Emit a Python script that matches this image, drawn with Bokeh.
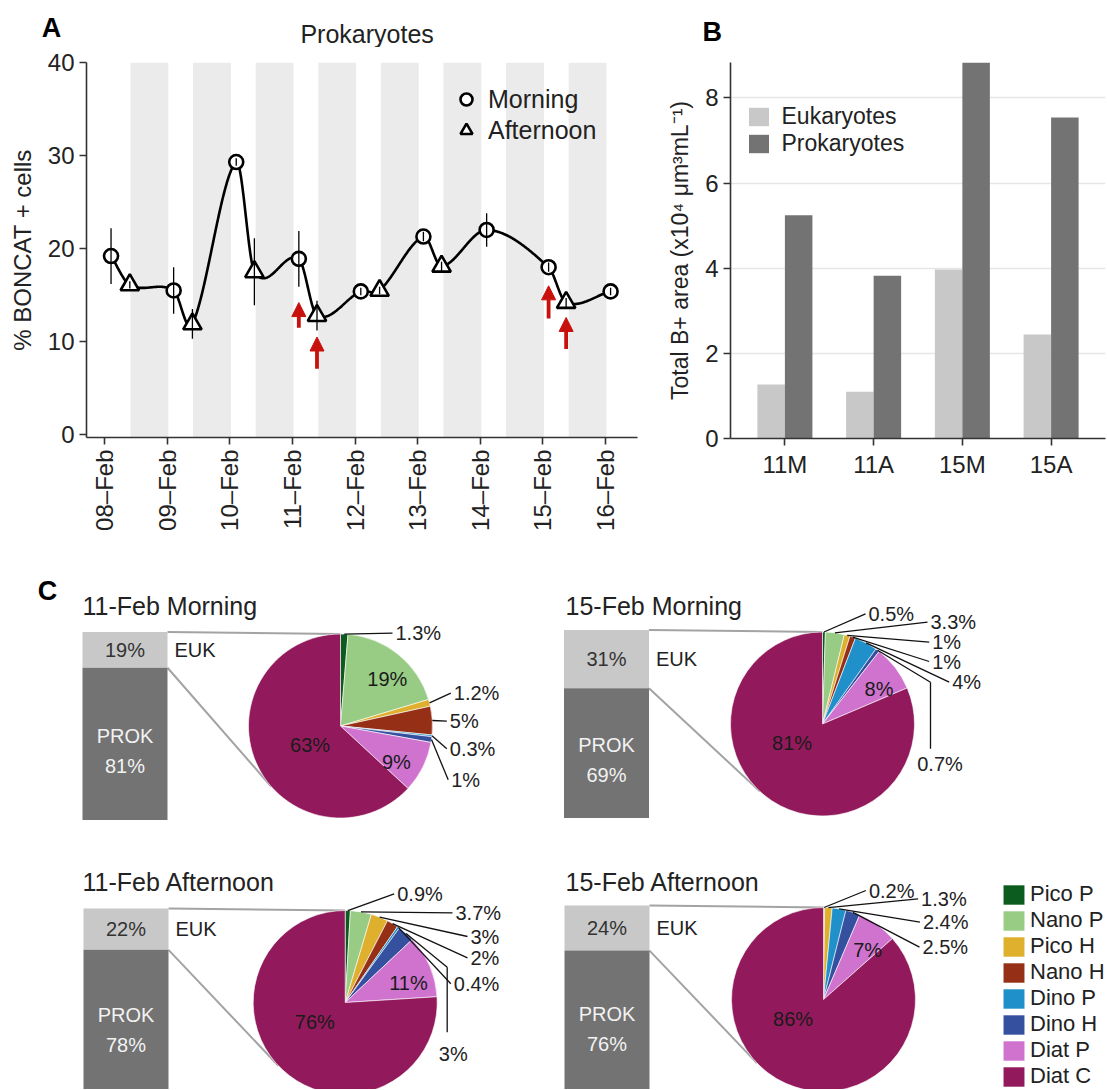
import math
import numpy as np
from bokeh.plotting import figure
from bokeh.layouts import column, row
from bokeh.models import (Range1d, Legend, LegendItem, Arrow, NormalHead,
                          FixedTicker, ColumnDataSource)
from bokeh.core.properties import value
from bokeh.embed import file_html
from bokeh.resources import INLINE

FONT = "Liberation Sans"
INK = "#222222"
AXIS = "#333333"
RED = "#c8100c"

# ---------------- Panel A data ----------------
date_labels = ["08–Feb", "09–Feb", "10–Feb", "11–Feb", "12–Feb", "13–Feb", "14–Feb", "15–Feb", "16–Feb"]
date_pos = [0, 1, 2, 3, 4, 5, 6, 7, 8]
morning_t = [0.10, 1.10, 2.10, 3.10, 4.09, 5.09, 6.10, 7.09, 8.08]
morning_pct = [19.2, 15.5, 29.3, 18.9, 15.4, 21.3, 22.0, 18.0, 15.4]
morning_sd = [3.0, 2.5, 0.4, 3.0, 0.4, 0.5, 1.8, 0.5, 0.4]
afternoon_t = [0.40, 1.40, 2.39, 3.39, 4.39, 5.38, 7.37]
afternoon_pct = [16.1, 11.9, 17.5, 12.8, 15.5, 18.1, 14.2]
afternoon_sd = [0.4, 1.6, 3.6, 1.6, 0.4, 0.5, 0.5]
night_start = [0.41, 1.41, 2.41, 3.41, 4.41, 5.41, 6.41, 7.41]
night_end = [1.015, 2.015, 3.015, 4.015, 5.015, 6.015, 7.015, 8.015]
arrow_t = [3.10, 3.39, 7.09, 7.37]
arrow_tail = [11.5, 7.1, 12.5, 9.2]
arrow_tip = [14.2, 10.5, 16.0, 12.6]
a_yticks = [0, 10, 20, 30, 40]

# ---------------- Panel B data ----------------
b_cats = ["11M", "11A", "15M", "15A"]
euk_area = [1.27, 1.10, 3.97, 2.44]
prok_area = [5.24, 3.82, 8.83, 7.54]
b_yticks = [0, 2, 4, 6, 8]

# ---------------- Panel C data ----------------
groups = ["Pico P", "Nano P", "Pico H", "Nano H", "Dino P", "Dino H", "Diat P", "Diat C"]
group_colors = ["#0d5c1f", "#98cc84", "#deb02e", "#952f16", "#1f90c9", "#35509f", "#cf73cf", "#921a5c"]
samples = ["11-Feb Morning", "15-Feb Morning", "11-Feb Afternoon", "15-Feb Afternoon"]
euk_pct = [19, 31, 22, 24]
prok_pct = [81, 69, 78, 76]
comp_11M = [1.3, 19, 1.2, 5, 0.3, 1, 9, 63]
comp_15M = [0.5, 3.3, 1, 1, 4, 0.7, 8, 81]
comp_11A = [0.9, 3.7, 3, 2, 0.4, 3, 11, 76]
comp_15A = [0.2, 0, 1.3, 0, 2.4, 2.5, 7, 86]


def catmull_rom(x, y, xs):
    x = np.asarray(x, float)
    y = np.asarray(y, float)
    n = len(x)
    m = np.zeros(n)
    m[0] = (y[1] - y[0]) / (x[1] - x[0])
    m[-1] = (y[-1] - y[-2]) / (x[-1] - x[-2])
    m[1:-1] = (y[2:] - y[:-2]) / (x[2:] - x[:-2])
    idx = np.clip(np.searchsorted(x, xs) - 1, 0, n - 2)
    h = x[idx + 1] - x[idx]
    s = (xs - x[idx]) / h
    h00 = 2 * s ** 3 - 3 * s ** 2 + 1
    h10 = s ** 3 - 2 * s ** 2 + s
    h01 = -2 * s ** 3 + 3 * s ** 2
    h11 = s ** 3 - s ** 2
    return h00 * y[idx] + h10 * h * m[idx] + h01 * y[idx + 1] + h11 * h * m[idx + 1]


def style_axes(p, size):
    for ax in p.axis:
        ax.axis_line_color = AXIS
        ax.axis_line_width = 1.6
        ax.major_tick_line_color = AXIS
        ax.major_tick_line_width = 1.6
        ax.major_tick_out = 7
        ax.major_tick_in = 0
        ax.minor_tick_line_color = None
        ax.major_label_text_font = FONT
        ax.major_label_text_font_size = size
        ax.major_label_text_color = INK
        ax.major_label_standoff = 5
        ax.axis_label_text_font = FONT
        ax.axis_label_text_font_style = "normal"
        ax.axis_label_text_color = INK


def blank(width, height):
    p = figure(frame_width=width, frame_height=height, x_range=Range1d(0, width),
               y_range=Range1d(0, height), min_border=0, x_axis_location=None,
               y_axis_location=None, output_backend="svg", toolbar_location=None, title=None)
    p.outline_line_color = None
    p.grid.visible = False
    return p


def put_text(p, d, size, color, align, style="normal"):
    p.text(x="x", y="y", text="t", source=ColumnDataSource(d), text_font=value(FONT),
           text_font_size=size, text_color=color, text_align=align,
           text_baseline="middle", text_font_style=style)


# ================= header strip (panel letters, title) =================
TOP_H = 47
pTop = blank(1106, TOP_H)
put_text(pTop, dict(x=[51, 711.7], y=[TOP_H - 27, TOP_H - 31], t=["A", "B"]),
         "27px", "black", "center", "bold")
put_text(pTop, dict(x=[366.6], y=[TOP_H - 33.5], t=["Prokaryotes"]), "25px", INK, "center")

# ================= Panel A =================
yA0, yA1 = -0.3, 40
pA = figure(frame_width=551, frame_height=375, min_border_left=86, min_border_right=3,
            min_border_top=62 - TOP_H, min_border_bottom=125,
            x_range=Range1d(-0.292, 8.51), y_range=Range1d(yA0, yA1),
            output_backend="svg", toolbar_location=None, title=None)
pA.outline_line_color = None
pA.grid.visible = False
pA.quad(left=night_start, right=night_end, bottom=yA0, top=yA1,
        fill_color="#ebebeb", line_color=None)

t_all = np.array(morning_t + afternoon_t)
v_all = np.array(morning_pct + afternoon_pct)
order = np.argsort(t_all)
ts = np.linspace(t_all[order][0], t_all[order][-1], 900)
pA.line(ts, catmull_rom(t_all[order], v_all[order], ts), line_color="black",
        line_width=2.6, line_join="round")

rm = pA.scatter(morning_t, morning_pct, marker="circle", size=14, fill_color="white",
                line_color="black", line_width=2.6)
ra = pA.scatter(afternoon_t, afternoon_pct, marker="triangle", size=18.5, fill_color="white",
                line_color="black", line_width=2.6)
pA.segment(x0=morning_t, x1=morning_t,
           y0=[v - s for v, s in zip(morning_pct, morning_sd)],
           y1=[v + s for v, s in zip(morning_pct, morning_sd)],
           line_color="black", line_width=1.3)
pA.segment(x0=afternoon_t, x1=afternoon_t,
           y0=[v - s for v, s in zip(afternoon_pct, afternoon_sd)],
           y1=[v + s for v, s in zip(afternoon_pct, afternoon_sd)],
           line_color="black", line_width=1.3)
for t, y0, y1 in zip(arrow_t, arrow_tail, arrow_tip):
    pA.add_layout(Arrow(end=NormalHead(size=14, fill_color=RED, line_color=RED, line_width=1),
                        x_start=t, y_start=y0, x_end=t, y_end=y1,
                        line_color=RED, line_width=3.8))

style_axes(pA, "24px")
pA.xaxis.ticker = FixedTicker(ticks=date_pos)
pA.xaxis.major_label_overrides = {p: l for p, l in zip(date_pos, date_labels)}
pA.xaxis.major_label_orientation = math.pi / 2
pA.yaxis.ticker = FixedTicker(ticks=a_yticks)
pA.yaxis.axis_label = "% BONCAT + cells"
pA.yaxis.axis_label_text_font_size = "24px"
pA.yaxis.axis_label_standoff = 9

legA = Legend(items=[LegendItem(label="Morning", renderers=[rm]),
                     LegendItem(label="Afternoon", renderers=[ra])],
              location=(365, 292), glyph_width=30, glyph_height=30, spacing=1,
              padding=0, margin=0, label_standoff=7, label_text_font=FONT,
              label_text_font_size="25px", label_text_color=INK,
              border_line_alpha=0, background_fill_alpha=0)
pA.add_layout(legA)

# ================= Panel B =================
pB = figure(frame_width=375, frame_height=376, min_border_left=90, min_border_right=1,
            min_border_top=61 - TOP_H, min_border_bottom=125,
            x_range=Range1d(0.387, 4.613), y_range=Range1d(0, max(prok_area)),
            output_backend="svg", toolbar_location=None, title=None)
pB.outline_line_color = None
pB.xgrid.visible = False
pB.ygrid.grid_line_color = "#e6e6e6"
pB.ygrid.grid_line_width = 1.3
xi = list(range(1, len(b_cats) + 1))
rb_e = pB.vbar(x=[i - 0.155 for i in xi], top=euk_area, width=0.31,
               fill_color="#c8c8c8", line_color=None)
rb_p = pB.vbar(x=[i + 0.155 for i in xi], top=prok_area, width=0.31,
               fill_color="#737373", line_color=None)
style_axes(pB, "24px")
pB.xaxis.ticker = FixedTicker(ticks=xi)
pB.xaxis.major_label_overrides = {i: c for i, c in zip(xi, b_cats)}
pB.yaxis.ticker = FixedTicker(ticks=b_yticks)
pB.yaxis.axis_label = "Total B+ area (x10⁴ μm³mL⁻¹)"
pB.yaxis.axis_label_text_font_size = "23px"
pB.yaxis.axis_label_standoff = 9
legB = Legend(items=[LegendItem(label="Eukaryotes", renderers=[rb_e]),
                     LegendItem(label="Prokaryotes", renderers=[rb_p])],
              location=(15.5, 281), glyph_width=25, glyph_height=23, spacing=0,
              padding=0, margin=0, label_standoff=11, label_text_font=FONT,
              label_text_font_size="23px", label_text_line_height=0.9, label_text_color=INK,
              border_line_alpha=0, background_fill_alpha=0)
pB.add_layout(legB)

# ================= Panel C =================
CW, CH = 1106, 527
REF_Y1 = 562 + CH  # page y of the bottom edge of this canvas


def D(rx, ry):
    return rx, REF_Y1 - ry


R = 92
BAR_W = 85
C_PANELS = [
    dict(title=samples[0], comp=comp_11M, euk=euk_pct[0], prok=prok_pct[0],
         title_at=(82, 605), bar_left=82, center=(340, 725.5),
         out=[(55, -92.8), (113.3, -32.8), (109.3, -4.8), (109.3, 22.8), (110.7, 53.8)]),
    dict(title=samples[1], comp=comp_15M, euk=euk_pct[1], prok=prok_pct[1],
         title_at=(565, 605), bar_left=563.5, center=(822, 723.5),
         out=[(46, -110.2), (108, -101.8), (109.7, -81.8), (109.7, -62.5), (129.7, -41.8),
              dict(knee=(108, -41.8), foot=24.8, text=(94.7, 39.8))]),
    dict(title=samples[2], comp=comp_11A, euk=euk_pct[2], prok=prok_pct[2],
         title_at=(82, 881.7), bar_left=83, center=(344.7, 1002),
         out=[(52, -108.7), (110.3, -89.7), (125.3, -66), (125.3, -44.7), (108.6, -18.7),
              dict(knee=(102, -35.3), foot=29.7, text=(93.6, 51.3))]),
    dict(title=samples[3], comp=comp_15A, euk=euk_pct[3], prok=prok_pct[3],
         title_at=(565, 881.7), bar_left=564, center=(823, 999),
         out=[(45.4, -109), (97.6, -100.7), (99.4, -77.3), (99, -52.3)]),
]

pC = blank(CW, CH)

conn = dict(x0=[], y0=[], x1=[], y1=[])
leader = dict(x0=[], y0=[], x1=[], y1=[])
txt_out = dict(x=[], y=[], t=[])
txt_in = dict(x=[], y=[], t=[])
txt_title = dict(x=[], y=[], t=[])
txt_eukpct = dict(x=[], y=[], t=[])
txt_euk = dict(x=[], y=[], t=[])
txt_prok = dict(x=[], y=[], t=[])
bars = dict(left=[], right=[], top=[], bottom=[], color=[])
wedge_sources = []

for pan in C_PANELS:
    comp = np.array(pan["comp"], float)
    cum = np.concatenate([[0.0], np.cumsum(comp)]) / comp.sum()
    cx, cy = D(*pan["center"])
    tx, ty = D(*pan["title_at"])
    txt_title["x"].append(tx); txt_title["y"].append(ty); txt_title["t"].append(pan["title"])
    # stacked EUK / PROK bar
    bl = pan["bar_left"]
    br = bl + BAR_W
    top = cy + R + 2
    full = 2 * R + 4
    mid = top - pan["euk"] / 100.0 * full
    bottom = mid - pan["prok"] / 100.0 * full
    bars["left"] += [bl, bl]; bars["right"] += [br, br]
    bars["top"] += [top, mid]; bars["bottom"] += [mid, bottom]
    bars["color"] += ["#c8c8c8", "#737373"]
    txt_eukpct["x"].append((bl + br) / 2); txt_eukpct["y"].append((top + mid) / 2)
    txt_eukpct["t"].append(f"{pan['euk']}%")
    txt_euk["x"].append(br + 7); txt_euk["y"].append((top + mid) / 2); txt_euk["t"].append("EUK")
    pm = (mid + bottom) / 2 - 7
    txt_prok["x"] += [(bl + br) / 2, (bl + br) / 2]
    txt_prok["y"] += [pm + 15, pm - 15]
    txt_prok["t"] += ["PROK", f"{pan['prok']}%"]
    # connector lines: bar top -> pie top, EUK bottom -> tangent point on the pie
    conn["x0"].append(br); conn["y0"].append(top); conn["x1"].append(cx); conn["y1"].append(cy + R)
    vx, vy = br - cx, mid - cy
    dd = math.hypot(vx, vy)
    phi = math.atan2(vy, vx)
    al = math.acos(R / dd)
    cands = [(cx + R * math.cos(phi + al), cy + R * math.sin(phi + al)),
             (cx + R * math.cos(phi - al), cy + R * math.sin(phi - al))]
    tp = min(cands, key=lambda q: q[1])
    conn["x0"].append(br); conn["y0"].append(mid); conn["x1"].append(tp[0]); conn["y1"].append(tp[1])
    # wedges, clockwise from 12 o'clock (empty categories are skipped)
    keep = [i for i, v in enumerate(comp) if v > 0]
    start = [math.pi / 2 - 2 * math.pi * cum[i] for i in keep]
    end = [math.pi / 2 - 2 * math.pi * cum[i + 1] for i in keep]
    wedge_sources.append(ColumnDataSource(dict(x=[cx] * len(keep), y=[cy] * len(keep),
                                               start=start, end=end,
                                               color=[group_colors[i] for i in keep])))
    # slice labels
    big = int(np.argmax(comp))
    out_iter = iter(pan["out"])
    for i, v in enumerate(comp):
        if v <= 0:
            continue
        th = math.pi * (cum[i] + cum[i + 1])
        label = f"{v:g}%"
        if v >= 7:
            if i == big:
                a, rr = math.radians(238), 0.39 * R
            else:
                a, rr = th + math.radians(6), 0.72 * R
            txt_in["x"].append(cx + rr * math.sin(a)); txt_in["y"].append(cy + rr * math.cos(a))
            txt_in["t"].append(label)
        else:
            ex, ey = cx + R * math.sin(th), cy + R * math.cos(th)
            spec = next(out_iter)
            if isinstance(spec, dict):
                kx, ky = cx + spec["knee"][0], cy - spec["knee"][1]
                fy = cy - spec["foot"]
                leader["x0"] += [ex, kx]; leader["y0"] += [ey, ky]
                leader["x1"] += [kx, kx]; leader["y1"] += [ky, fy]
                lx, ly = cx + spec["text"][0], cy - spec["text"][1]
            else:
                lx, ly = cx + spec[0], cy - spec[1]
                leader["x0"].append(ex); leader["y0"].append(ey)
                leader["x1"].append(lx - 3); leader["y1"].append(ly)
            txt_out["x"].append(lx); txt_out["y"].append(ly); txt_out["t"].append(label)

pC.segment(x0="x0", y0="y0", x1="x1", y1="y1", source=ColumnDataSource(conn),
           line_color="#a3a3a3", line_width=2)
pC.quad(left="left", right="right", top="top", bottom="bottom", fill_color="color",
        line_color=None, source=ColumnDataSource(bars))
wedge_renderers = []
for src in wedge_sources:
    wedge_renderers.append(pC.wedge(x="x", y="y", radius=R, start_angle="start", end_angle="end",
                                    direction="clock", fill_color="color", line_color="white",
                                    line_width=0.6, source=src))
pC.segment(x0="x0", y0="y0", x1="x1", y1="y1", source=ColumnDataSource(leader),
           line_color="#111111", line_width=1.3)

put_text(pC, txt_title, "25px", INK, "left")
put_text(pC, txt_out, "20px", INK, "left")
put_text(pC, txt_in, "20px", "#1a1a1a", "center")
put_text(pC, txt_eukpct, "20px", "#333333", "center")
put_text(pC, txt_euk, "20px", INK, "left")
put_text(pC, txt_prok, "20px", "#f2f2f2", "center")
cl_x, cl_y = D(47, 590)
put_text(pC, dict(x=[cl_x], y=[cl_y], t=["C"]), "27px", "black", "center", "bold")

legC = Legend(items=[LegendItem(label=g, renderers=[wedge_renderers[0]], index=i)
                     for i, g in enumerate(groups)],
              location=(1000, 0), glyph_width=27, glyph_height=25, spacing=0,
              padding=0, margin=0, label_standoff=3, label_text_font=FONT,
              label_text_font_size="22px", label_text_line_height=1.0, label_text_color=INK,
              border_line_alpha=0, background_fill_alpha=0)
pC.add_layout(legC)

layout = column(pTop, row(pA, pB), pC)
open("out.html", "w").write(file_html(layout, INLINE))
